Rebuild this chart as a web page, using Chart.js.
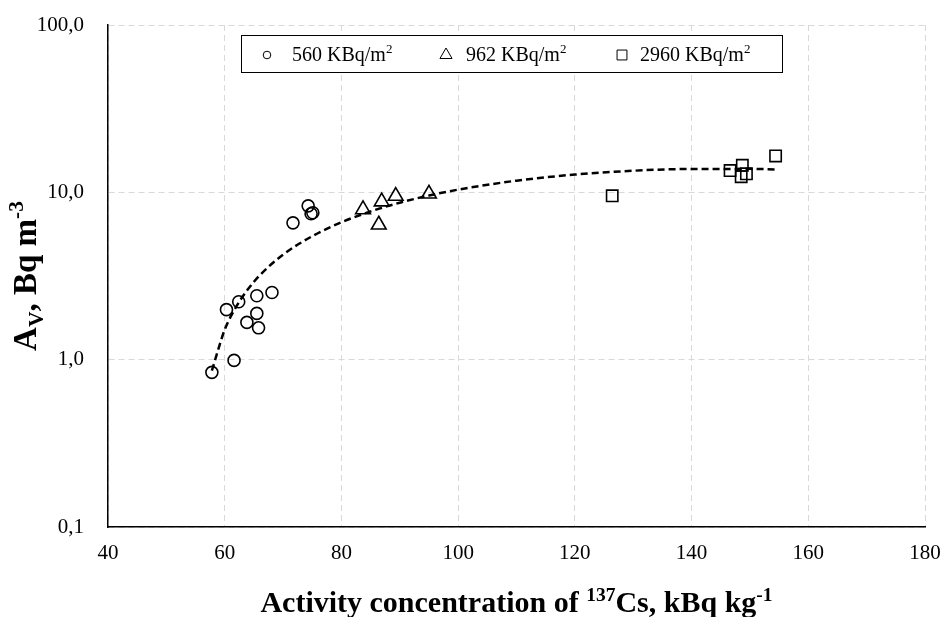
<!DOCTYPE html>
<html>
<head>
<meta charset="utf-8">
<script src="https://cdn.jsdelivr.net/npm/chart.js@4/dist/chart.umd.min.js"></script>
<style>
  body { margin: 0; background: #fff; }
  #wrap { width: 941px; height: 617px; }
</style>
</head>
<body>
<div id="wrap"><canvas id="grafico" width="941" height="617"></canvas></div>
<script>
// datos
const serie560X = [57.8, 60.3, 61.6, 62.4, 63.8, 65.5, 65.5, 65.8, 68.1, 71.7, 74.3, 74.8, 75.1];
const serie560Y = [0.84, 1.99, 0.99, 2.22, 1.67, 2.41, 1.89, 1.55, 2.52, 6.57, 8.3, 7.45, 7.55];

const serie962X = [83.7, 86.4, 86.9, 89.3, 95.0];
const serie962Y = [7.9, 6.4, 8.8, 9.5, 9.8];

const serie2960X = [126.4, 146.6, 148.5, 148.7, 149.4, 154.4];
const serie2960Y = [9.53, 13.5, 12.4, 14.5, 12.9, 16.5];

// línea de tendencia (leída punto a punto)
const tendX = [57.8, 60, 62, 64, 66, 70, 75, 80, 85, 90, 95, 100, 110, 120, 130, 140, 150, 154.5];
const tendY = [0.86, 1.51, 2.08, 2.64, 3.19, 4.24, 5.47, 6.62, 7.69, 8.67, 9.57, 10.38, 11.74, 12.77, 13.46, 13.8, 13.81, 13.7];

const etiquetas = ["560 KBq/m", "962 KBq/m", "2960 KBq/m"];
const yTicks = [0.1, 1, 10, 100];

const FUENTE = "'Liberation Serif', 'Times New Roman', serif";

function pares(xs, ys) {
    return xs.map((x, i) => ({ x: x, y: ys[i] }));
}

// dibuja texto con partes en superíndice / subíndice
function textoCompuesto(ctx, partes, x, y, size, bold, align) {
    const peso = bold ? "bold " : "";
    let total = 0;
    partes.forEach(p => {
        const s = p.s ? size * 0.65 : size;
        ctx.font = peso + s + "px " + FUENTE;
        total += ctx.measureText(p.t).width;
    });
    let cx = align === "center" ? x - total / 2 : x;
    ctx.textAlign = "left";
    ctx.textBaseline = "alphabetic";
    partes.forEach(p => {
        const s = p.s ? size * 0.65 : size;
        ctx.font = peso + s + "px " + FUENTE;
        let dy = 0;
        if (p.s === "sup") dy = -size * 0.38;
        if (p.s === "sub") dy = size * 0.2;
        ctx.fillText(p.t, cx, y + dy);
        cx += ctx.measureText(p.t).width;
    });
}

const extras = {
    id: "extras",
    afterDraw(chart) {
        const ctx = chart.ctx;
        const area = chart.chartArea;
        ctx.save();

        // leyenda con recuadro
        ctx.fillStyle = "#fff";
        ctx.fillRect(241, 35, 541, 37);
        ctx.strokeStyle = "#000";
        ctx.lineWidth = 1;
        ctx.strokeRect(241.5, 35.5, 541, 37);

        const marcas = [
            { estilo: "circle", r: 3.8, x: 267, tx: 292 },
            { estilo: "triangle", r: 7, x: 446, tx: 466 },
            { estilo: "rect", r: 7, x: 622, tx: 640 }
        ];
        marcas.forEach((m, i) => {
            ctx.strokeStyle = "#000";
            ctx.fillStyle = "rgba(0,0,0,0)";
            Chart.helpers.drawPoint(ctx, { pointStyle: m.estilo, radius: m.r, rotation: 0, borderWidth: 1.5 }, m.x, 55);
            ctx.fillStyle = "#000";
            textoCompuesto(ctx, [{ t: etiquetas[i] }, { t: "2", s: "sup" }], m.tx, 61, 20, false, "left");
        });

        // título eje X
        const cxX = (area.left + area.right) / 2;
        textoCompuesto(ctx, [
            { t: "Activity concentration of " },
            { t: "137", s: "sup" },
            { t: "Cs, kBq kg" },
            { t: "-1", s: "sup" }
        ], cxX, 612, 30, true, "center");

        // título eje Y
        ctx.translate(36, (area.top + area.bottom) / 2);
        ctx.rotate(-Math.PI / 2);
        textoCompuesto(ctx, [
            { t: "A" },
            { t: "V", s: "sub" },
            { t: ", Bq m" },
            { t: "-3", s: "sup" }
        ], 0, 0, 33, true, "center");
        ctx.restore();
    }
};

document.addEventListener("DOMContentLoaded", () => {
    const ctx = document.getElementById("grafico");

    const comunes = {
        showLine: false,
        borderColor: "#000",
        backgroundColor: "rgba(0,0,0,0)",
        pointBorderColor: "#000",
        pointBackgroundColor: "rgba(0,0,0,0)",
        pointBorderWidth: 1.6
    };

    new Chart(ctx, {
        type: "scatter",
        data: {
            datasets: [
                Object.assign({ label: etiquetas[0], data: pares(serie560X, serie560Y), pointStyle: "circle", pointRadius: 6 }, comunes),
                Object.assign({ label: etiquetas[1], data: pares(serie962X, serie962Y), pointStyle: "triangle", pointRadius: 8.5 }, comunes),
                Object.assign({ label: etiquetas[2], data: pares(serie2960X, serie2960Y), pointStyle: "rect", pointRadius: 8 }, comunes),
                {
                    label: "tendencia",
                    data: pares(tendX, tendY),
                    showLine: true,
                    pointRadius: 0,
                    borderColor: "#000",
                    borderWidth: 2.5,
                    borderDash: [7, 4],
                    cubicInterpolationMode: "monotone"
                }
            ]
        },
        options: {
            responsive: false,
            animation: false,
            layout: { padding: { top: 25, right: 16, left: 0, bottom: 0 } },
            plugins: {
                legend: { display: false },
                tooltip: { enabled: false }
            },
            scales: {
                x: {
                    type: "linear",
                    min: 40,
                    max: 180,
                    // altura fija y sin relleno extra por la última etiqueta
                    afterFit: s => { s.height = 90; s.paddingRight = 0; s.paddingLeft = 0; },
                    grid: { color: "#d9d9d9", lineWidth: 1, drawTicks: false },
                    border: { color: "#000", width: 1.5, dash: [6, 4] },
                    ticks: {
                        stepSize: 20,
                        padding: 14,
                        color: "#000",
                        font: { family: FUENTE, size: 21 }
                    }
                },
                y: {
                    type: "logarithmic",
                    min: 0.1,
                    max: 100,
                    afterFit: s => { s.width = 108; s.paddingTop = 0; s.paddingBottom = 0; },
                    afterBuildTicks: s => { s.ticks = yTicks.map(v => ({ value: v })); },
                    grid: { color: "#d9d9d9", lineWidth: 1, drawTicks: false },
                    border: { color: "#000", width: 1.5, dash: [6, 4] },
                    ticks: {
                        padding: 24,
                        color: "#000",
                        font: { family: FUENTE, size: 21 },
                        callback: v => v.toFixed(1).replace(".", ",")
                    }
                }
            }
        },
        plugins: [extras]
    });
});
</script>
</body>
</html>
